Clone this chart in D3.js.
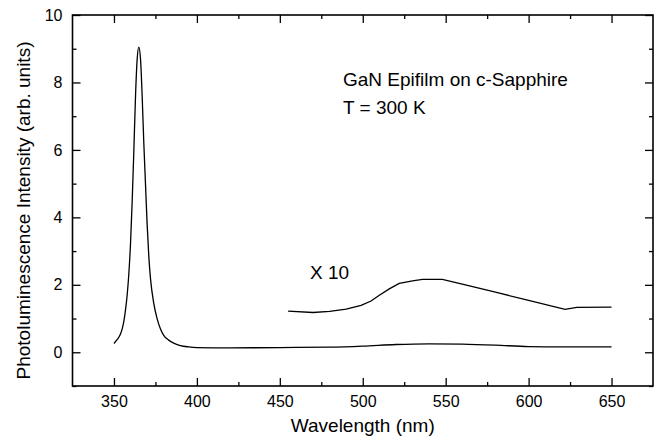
<!DOCTYPE html>
<html>
<head>
<meta charset="utf-8">
<script src="https://cdn.jsdelivr.net/npm/d3@7/dist/d3.min.js"></script>
<style>
  body { margin: 0; background: #fff; }
  svg { display: block; font-family: "Liberation Sans", Arial, sans-serif; }
  .axis path { display: none; }
  .axis line { stroke: #000; stroke-width: 1.3px; }
  .axis text { font-size: 16px; fill: #000; }
</style>
</head>
<body>
<svg width="659" height="441"></svg>
<script>

// main PL spectrum (arb. units)
var mainWl = [350, 352, 354, 355, 356, 357, 358, 359, 360, 361, 362, 363, 364, 365, 366, 367, 368, 369, 370, 371, 372, 374, 376, 378, 380, 383, 386, 390, 395, 400, 420, 450, 480, 500, 520, 540, 560, 580, 600, 620, 650]
var mainPl = [0.26, 0.38, 0.55, 0.7, 0.93, 1.27, 1.72, 2.35, 3.25, 4.5, 6.0, 7.6, 8.7, 9.05, 8.7, 7.6, 6.2, 5.0, 3.8, 2.85, 2.2, 1.45, 1.0, 0.7, 0.5, 0.36, 0.27, 0.2, 0.16, 0.14, 0.13, 0.14, 0.15, 0.18, 0.23, 0.25, 0.24, 0.21, 0.17, 0.16, 0.16]

// yellow band magnified x10
var x10Wl = [455, 470, 480, 490, 499, 505, 510, 516, 522, 530, 536, 548, 560, 580, 600, 622, 629, 650]
var x10Pl = [1.22, 1.18, 1.21, 1.28, 1.39, 1.52, 1.69, 1.88, 2.04, 2.12, 2.16, 2.16, 2.02, 1.78, 1.54, 1.27, 1.33, 1.34]

var xMajor = [350, 400, 450, 500, 550, 600, 650]
var xMinor = [375, 425, 475, 525, 575, 625]
var yMajor = [0, 2, 4, 6, 8, 10]
var yMinor = [-1, 1, 3, 5, 7, 9]

var svg = d3.select('svg')
var padL = 72.5, padR = 653, padT = 15, padB = 386

var x = d3.scaleLinear().domain([325, 675]).range([padL, padR])
var y = d3.scaleLinear().domain([-1, 10]).range([padB, padT])

// ticks pointing inward on all four sides
function ticks(axisFn, pos, values, size, labels, transform) {
	var a = axisFn(pos).tickValues(values).tickSizeInner(-size).tickSizeOuter(0).tickPadding(10)
	if (!labels) a.tickFormat('')
	svg.append('g').attr('class', 'axis').attr('transform', transform).call(a)
}
ticks(d3.axisBottom, x, xMajor, 8, true, 'translate(0,' + padB + ')')
ticks(d3.axisBottom, x, xMinor, 4, false, 'translate(0,' + padB + ')')
ticks(d3.axisTop, x, xMajor, 8, false, 'translate(0,' + padT + ')')
ticks(d3.axisTop, x, xMinor, 4, false, 'translate(0,' + padT + ')')
ticks(d3.axisLeft, y, yMajor, 8, true, 'translate(' + padL + ',0)')
ticks(d3.axisLeft, y, yMinor, 4, false, 'translate(' + padL + ',0)')
ticks(d3.axisRight, y, yMajor, 8, false, 'translate(' + padR + ',0)')
ticks(d3.axisRight, y, yMinor, 4, false, 'translate(' + padR + ',0)')

svg.append('rect')
   .attr('x', padL).attr('y', padT)
   .attr('width', padR - padL).attr('height', padB - padT)
   .style('fill', 'none').style('stroke', '#000').style('stroke-width', 1.6)

var mainLine = d3.line()
	.x(function(d, i){ return x(mainWl[i]) })
	.y(function(d){ return y(d) })
	.curve(d3.curveMonotoneX)

var x10Line = d3.line()
	.x(function(d, i){ return x(x10Wl[i]) })
	.y(function(d){ return y(d) })

svg.append('path').datum(mainPl).attr('d', mainLine)
   .style('fill', 'none').style('stroke', '#000').style('stroke-width', 1.3)
svg.append('path').datum(x10Pl).attr('d', x10Line)
   .style('fill', 'none').style('stroke', '#000').style('stroke-width', 1.3)

function label(s, tx, ty, anchor, rot) {
	var t = svg.append('text').text(s).attr('x', tx).attr('y', ty)
		.style('font-size', '19px').style('text-anchor', anchor || 'start')
	if (rot) t.attr('transform', 'rotate(-90,' + tx + ',' + ty + ')')
	return t
}
label('GaN Epifilm on c-Sapphire', 343, 86)
label('T = 300 K', 343, 114)
label('X 10', 310, 279)
label('Wavelength (nm)', (padL + padR) / 2, 432, 'middle')
label('Photoluminescence Intensity (arb. units)', 30, (padT + padB) / 2 + 10, 'middle', true)

</script>
</body>
</html>
